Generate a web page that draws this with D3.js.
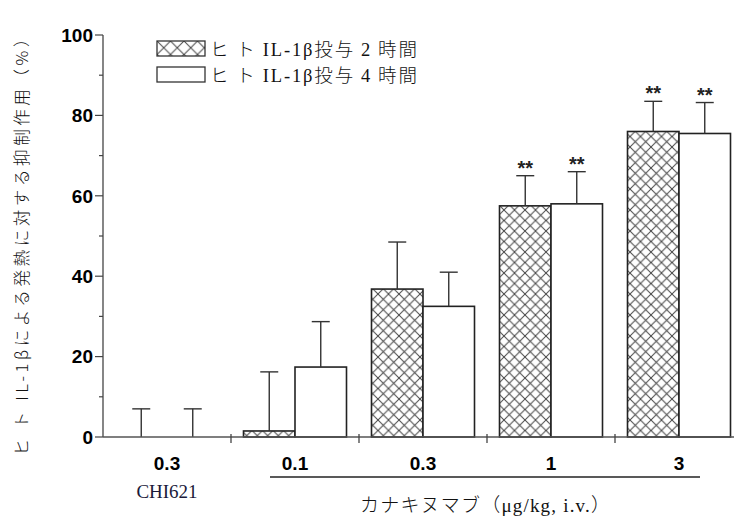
<!DOCTYPE html>
<html>
<head>
<meta charset="utf-8">
<script src="https://cdn.jsdelivr.net/npm/d3@7/dist/d3.min.js"></script>
<style>
body { margin: 0; background: #fff; }
svg { display: block; }
</style>
</head>
<body>
<div id="chart"></div>
<script>
// data
var doses = ["0.3", "0.1", "0.3 ", "1", "3"];
var doseLabels = ["0.3", "0.1", "0.3", "1", "3"];
var seriesPre = ["ヒ ト ", "ヒ ト "];
var seriesMid = ["IL-1β", "IL-1β"];
var seriesPost = [["投与 ", "2", " 時間"], ["投与 ", "4", " 時間"]];
var mean2h = [0, 1.5, 36.8, 57.5, 76];
var err2h = [7, 16.2, 48.5, 65, 83.5];
var mean4h = [0, 17.4, 32.5, 58, 75.5];
var err4h = [7, 28.7, 41, 66, 83.2];
var sig2h = [false, false, false, true, true];
var sig4h = [false, false, false, true, true];
var yMajor = [0, 20, 40, 60, 80, 100];
var yMinor = [10, 30, 50, 70, 90];

var W = 734, H = 517;
var svg = d3.select("#chart").append("svg")
	.attr("width", W)
	.attr("height", H);

// hatch patterns (bars and legend swatch have different density)
var defs = svg.append("defs");
function makeHatch(id, p) {
	var pat = defs.append("pattern")
		.attr("id", id)
		.attr("patternUnits", "userSpaceOnUse")
		.attr("width", p).attr("height", p);
	pat.append("rect").attr("width", p).attr("height", p).attr("fill", "#fff");
	pat.append("path")
		.attr("d", "M0,0L" + p + "," + p + "M" + p + ",0L0," + p)
		.attr("stroke", "#444").attr("stroke-width", 1);
}
makeHatch("xhatch", 10.5);
makeHatch("xhatchLeg", 13.5);

var x = d3.scaleBand()
	.domain(doses)
	.range([103, 743]);

var y = d3.scaleLinear()
	.domain([0, 100])
	.range([437, 35]);

var barW = 51.5;

// y axis
var yAxis = svg.append("g").attr("transform", "translate(103,0)");
yAxis.append("line")
	.attr("y1", y(0)).attr("y2", y(100))
	.attr("stroke", "#444").attr("stroke-width", 1.3);
yAxis.selectAll(".maj")
	.data(yMajor).enter().append("line")
	.attr("x1", -8).attr("x2", 0)
	.attr("y1", function(d) { return y(d); })
	.attr("y2", function(d) { return y(d); })
	.attr("stroke", "#444").attr("stroke-width", 1.2);
yAxis.selectAll(".min")
	.data(yMinor).enter().append("line")
	.attr("x1", -4).attr("x2", 0)
	.attr("y1", function(d) { return y(d); })
	.attr("y2", function(d) { return y(d); })
	.attr("stroke", "#444").attr("stroke-width", 1.2);
yAxis.selectAll("text")
	.data(yMajor).enter().append("text")
	.attr("x", -10)
	.attr("y", function(d) { return y(d); })
	.attr("dy", "0.36em")
	.attr("text-anchor", "end")
	.attr("font-family", "Liberation Sans, Arial, sans-serif")
	.attr("font-weight", "bold")
	.attr("font-size", 19)
	.text(function(d) { return d; });

// y label
svg.append("text")
	.attr("transform", "translate(28,243) rotate(-90)")
	.attr("text-anchor", "middle")
	.attr("font-family", "Noto Sans CJK JP, sans-serif")
	.attr("font-size", 16.5)
	.attr("font-weight", 300)
	.attr("fill", "#111")
	.attr("textLength", 425)
	.attr("lengthAdjust", "spacing")
	.text("ヒ ト IL-1βによる発熱に対する抑制作用（%）");

function drawSeries(vals, errs, sig, offset, fill) {
	doses.forEach(function(d, i) {
		var cx = x(d) + x.bandwidth() / 2 + offset;
		var x0 = cx - barW / 2;
		if (vals[i] > 0) {
			svg.append("rect")
				.attr("x", x0).attr("y", y(vals[i]))
				.attr("width", barW).attr("height", y(0) - y(vals[i]))
				.attr("fill", fill)
				.attr("stroke", "#222").attr("stroke-width", 1.6);
		}
		svg.append("line")
			.attr("x1", cx).attr("x2", cx)
			.attr("y1", y(vals[i])).attr("y2", y(errs[i]))
			.attr("stroke", "#333").attr("stroke-width", 1.4);
		svg.append("line")
			.attr("x1", cx - 9).attr("x2", cx + 9)
			.attr("y1", y(errs[i])).attr("y2", y(errs[i]))
			.attr("stroke", "#333").attr("stroke-width", 1.4);
		if (sig[i]) {
			svg.append("text")
				.attr("x", cx).attr("y", y(errs[i]) - 1)
				.attr("text-anchor", "middle")
				.attr("font-family", "Liberation Sans, Arial, sans-serif")
				.attr("font-weight", "bold")
				.attr("font-size", 20)
				.attr("fill", "#222")
				.text("**");
		}
	});
}
drawSeries(mean2h, err2h, sig2h, -barW / 2, "url(#xhatch)");
drawSeries(mean4h, err4h, sig4h, barW / 2, "#fff");

// x axis
svg.append("line")
	.attr("x1", 103).attr("x2", W)
	.attr("y1", y(0)).attr("y2", y(0))
	.attr("stroke", "#555").attr("stroke-width", 1.6);
svg.selectAll(".xt")
	.data(doses.slice(1)).enter().append("line")
	.attr("x1", function(d) { return x(d); })
	.attr("x2", function(d) { return x(d); })
	.attr("y1", y(0) - 3).attr("y2", y(0) + 6)
	.attr("stroke", "#444").attr("stroke-width", 1.3);
svg.selectAll(".xl")
	.data(doses).enter().append("text")
	.attr("x", function(d) { return x(d) + x.bandwidth() / 2; })
	.attr("y", 470)
	.attr("text-anchor", "middle")
	.attr("font-family", "Liberation Sans, Arial, sans-serif")
	.attr("font-weight", "bold")
	.attr("font-size", 19)
	.text(function(d, i) { return doseLabels[i]; });

svg.append("text")
	.attr("x", x(doses[0]) + x.bandwidth() / 2)
	.attr("y", 498)
	.attr("text-anchor", "middle")
	.attr("font-family", "Liberation Serif, serif")
	.attr("font-size", 19)
	.attr("fill", "#1a1a3a")
	.text("CHI621");

svg.append("line")
	.attr("x1", 270).attr("x2", 700)
	.attr("y1", 477).attr("y2", 477)
	.attr("stroke", "#222").attr("stroke-width", 1.3);

var cap = svg.append("text")
	.attr("x", 360)
	.attr("y", 512)
	.attr("fill", "#111")
	.attr("font-size", 19)
	.attr("textLength", 250)
	.attr("lengthAdjust", "spacing");
cap.append("tspan")
	.attr("font-family", "Noto Sans CJK JP, sans-serif")
	.attr("font-weight", 300)
	.text("カナキヌマブ（");
cap.append("tspan")
	.attr("font-family", "Liberation Serif, serif")
	.text("μg/kg, i.v.");
cap.append("tspan")
	.attr("font-family", "Noto Sans CJK JP, sans-serif")
	.attr("font-weight", 300)
	.text("）");

// legend
var leg = svg.append("g").attr("transform", "translate(157,41)");
seriesMid.forEach(function(s, i) {
	leg.append("rect")
		.attr("x", 0).attr("y", i * 26)
		.attr("width", 48).attr("height", 15)
		.attr("fill", i === 0 ? "url(#xhatchLeg)" : "#fff")
		.attr("stroke", "#333").attr("stroke-width", 1.3);
	var t = leg.append("text")
		.attr("x", 53).attr("y", i * 26 + 15)
		.attr("font-size", 18.5)
		.attr("fill", "#111")
		.attr("textLength", 207)
		.attr("lengthAdjust", "spacing");
	t.append("tspan")
		.attr("font-family", "Noto Sans CJK JP, sans-serif")
		.attr("font-weight", 300)
		.text(seriesPre[i]);
	t.append("tspan")
		.attr("font-family", "Liberation Serif, serif")
		.text(s);
	t.append("tspan")
		.attr("font-family", "Noto Sans CJK JP, sans-serif")
		.attr("font-weight", 300)
		.text(seriesPost[i][0]);
	t.append("tspan")
		.attr("font-family", "Liberation Serif, serif")
		.text(seriesPost[i][1]);
	t.append("tspan")
		.attr("font-family", "Noto Sans CJK JP, sans-serif")
		.attr("font-weight", 300)
		.text(seriesPost[i][2]);
});
</script>
</body>
</html>
